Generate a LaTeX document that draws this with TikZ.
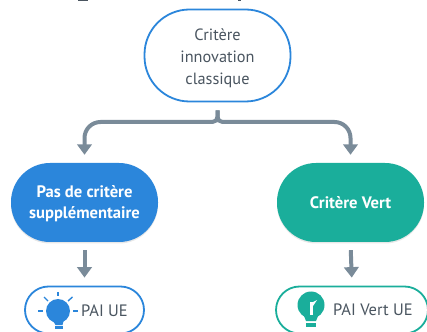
\documentclass[tikz,border=0pt]{standalone}
\usepackage{fontspec}
\setmainfont{PT Sans}
\usetikzlibrary{arrows.meta,shadows}
\definecolor{critblue}{HTML}{2B86DB}
\definecolor{critgreen}{HTML}{1AAE9B}
\definecolor{flowgray}{HTML}{7A8B99}
\definecolor{labelgray}{HTML}{4A5560}
\tikzset{
  critbox/.style={draw=critblue, line width=1.8pt, fill=white, text=labelgray, align=center, minimum width=146pt, minimum height=92pt, rounded corners=45pt, font=\fontsize{16.3}{22}\selectfont},
  choicebox/.style={draw=none, text=white, align=center, minimum width=147pt, minimum height=79pt, rounded corners=39pt, font=\fontsize{16.6}{21}\selectfont\bfseries, drop shadow={opacity=.18, shadow xshift=0pt, shadow yshift=-1.5pt}},
  pillbox/.style={line width=1.8pt, fill=white, minimum height=47pt, rounded corners=23.5pt},
  pilltext/.style={text=labelgray, font=\fontsize{16.5}{18}\selectfont},
  flow/.style={draw=flowgray, line width=4pt, -{Triangle[width=14.5pt,length=10.5pt]}, shorten <=8pt, shorten >=8pt},
  ray/.style={draw=critblue, line width=1.4pt}
}
\newcommand{\lowerfirst}[1]{\rule{0pt}{#1}}
\begin{document}
\begin{tikzpicture}[x=1pt,y=1pt]
  \clip (0,0) rectangle (427,331);
  % clipped heading above the picture
  \fill[labelgray] (78,331) rectangle (88,329.5);
  \fill[labelgray] (238,331) rectangle (241,329.5);

  \node[critbox] (classic) at (217.5,275.5) {\lowerfirst{18pt}Critère\\innovation\\classique};
  \node[choicebox, fill=critblue] (nosupp) at (84.5,128.5) {\lowerfirst{15pt}Pas de critère\\supplémentaire};
  \node[choicebox, fill=critgreen] (green) at (350.5,128.5) {Critère Vert};
  \node[pillbox, draw=critblue, minimum width=119pt] (paiue) at (84.5,21) {};
  \node[pillbox, draw=critgreen, minimum width=152pt] (paivert) at (352,21) {};
  \node[pilltext] (paiuetext) at (104.5,20) {PAI UE};
  \node[pilltext] (paiverttext) at (373,21) {PAI Vert UE};

  \coordinate (fork) at (217.5,209);
  \draw[flow, rounded corners=5pt] (classic.south) -- (fork) [rounded corners=16pt] -- (fork -| nosupp.north) -- (nosupp.north);
  \draw[flow, rounded corners=5pt] (classic.south) -- (fork) [rounded corners=16pt] -- (fork -| green.north) -- (green.north);
  \draw[flow] (nosupp.south) -- (paiue.north);
  \draw[flow] (green.south) -- (paivert.north);

  % blue bulb
  \fill[critblue] (58,20) circle (12);
  \fill[critblue] (52,12) -- (64,12) -- (62.5,6) -- (55.5,6) -- cycle;
  \fill[critblue] (55,5) rectangle (63,2.5);
  \draw[ray] (58,39) -- (58,35);
  \draw[ray] (44,34) -- (48,30);
  \draw[ray] (72.5,34) -- (68,30);
  \draw[ray] (38,20) -- (43,20);
  \draw[ray] (73,20) -- (78,20);

  % green bulb
  \fill[critgreen] (311,26) circle (13.5);
  \fill[critgreen] (304,15) -- (318,15) -- (316,10) -- (306,10) -- cycle;
  \fill[critgreen] (306,8.5) rectangle (316,4.5);
  \fill[white] (310,16) rectangle (313,29);
  \fill[white] (313,25) -- (317,31) -- (313,29) -- cycle;
\end{tikzpicture}
\end{document}
